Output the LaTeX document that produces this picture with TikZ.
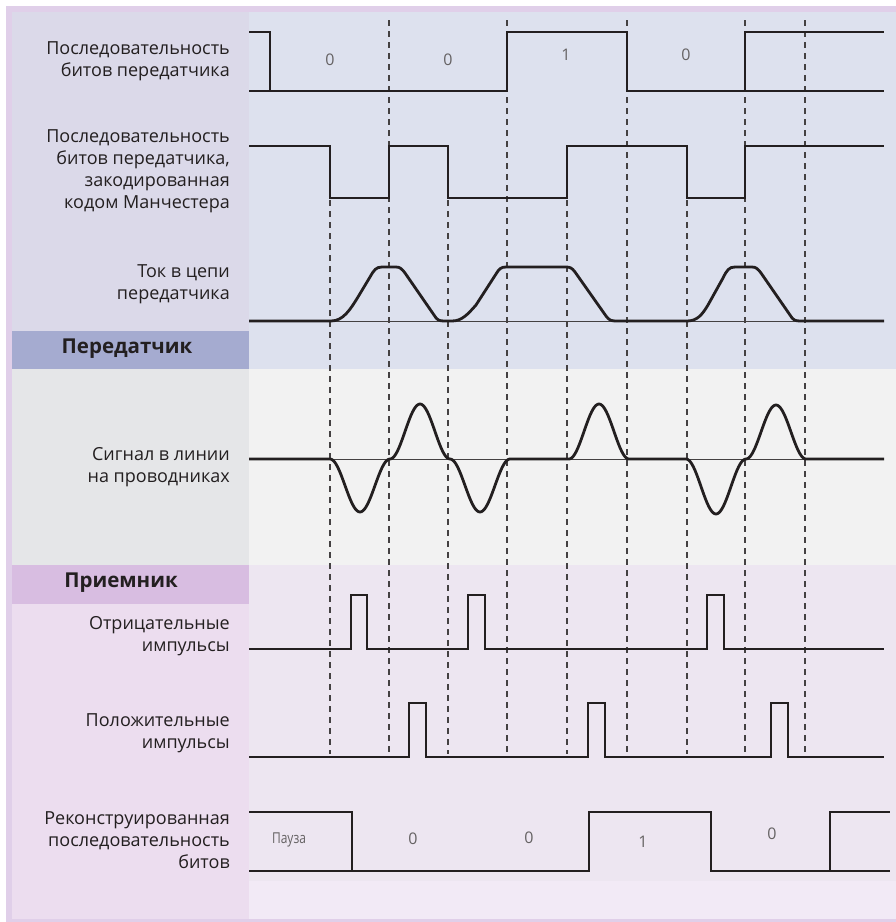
\documentclass[tikz,border=0pt]{standalone}
\usepackage{fontspec}
\setmainfont{Open Sans}
\definecolor{frame}{HTML}{E0CFE9}
\definecolor{txlbl}{HTML}{DBD9E9}
\definecolor{txhead}{HTML}{A5ABD0}
\definecolor{sglbl}{HTML}{E5E6E8}
\definecolor{rxhead}{HTML}{D8BDE1}
\definecolor{rxlbl}{HTML}{ECDDEF}
\definecolor{txplot}{HTML}{DDE1EE}
\definecolor{sgplot}{HTML}{F2F2F2}
\definecolor{rxplot}{HTML}{EDE6F1}
\definecolor{footplot}{HTML}{F2EAF6}
\definecolor{ink}{HTML}{231F20}
\begin{document}
\begin{tikzpicture}[x=1pt,y=-1pt,
  wave/.style={line width=2.8pt, ink},
  thinbase/.style={line width=1pt, ink!85},
  guide/.style={line width=1.25pt, ink!85, dash pattern=on 6pt off 5pt},
  lbl/.style={anchor=east, align=right, inner sep=0pt, text=ink,
              font=\fontsize{18}{22}\selectfont},
  head/.style={inner sep=0pt, text=ink, font=\fontsize{20.5}{22}\selectfont\bfseries},
  bit/.style={inner sep=0pt, text=ink!70, font=\fontsize{16}{18}\selectfont}]
\useasboundingbox (0,0) rectangle (896,922);
\fill[white] (0,0) rectangle (896,922);
\fill[frame] (6,6) rectangle (896,922);
% label column
\fill[txlbl]  (12,12)  rectangle (249,331);
\fill[txhead] (12,331) rectangle (249,369);
\fill[sglbl]  (12,369) rectangle (249,565);
\fill[rxhead] (12,565) rectangle (249,604);
\fill[rxlbl]  (12,604) rectangle (249,919);
% plot column
\fill[txplot]   (249,12)  rectangle (896,369);
\fill[sgplot]   (249,369) rectangle (896,565);
\fill[rxplot]   (249,565) rectangle (896,881);
\fill[footplot] (249,881) rectangle (896,919);

% timing guides
\foreach \gx in {389,507,627,745,805} \draw[guide] (\gx,20) -- (\gx,754);
\foreach \gx in {330,448,567,687} \draw[guide] (\gx,200) -- (\gx,754);

% transmitter bit sequence
\draw[wave] (249,32) -- (270,32) -- (270,91);
\draw[wave] (249,91) -- (507,91) -- (507,32) -- (627,32) -- (627,91) -- (884,91);
\draw[wave] (745,91) -- (745,32) -- (884,32);
\node[bit] (b1) at (330,60) {0};
\node[bit] (b2) at (448,60) {0};
\node[bit] (b3) at (566,55) {1};
\node[bit] (b4) at (686,55) {0};

% Manchester code
\draw[wave] (249,146) -- (330,146) -- (330,198) -- (389,198) -- (389,146)
  -- (448,146) -- (448,198) -- (567,198) -- (567,146) -- (687,146)
  -- (687,198) -- (745,198) -- (745,146) -- (884,146);

% transmitter current
\draw[thinbase] (249,321) -- (884,321);
\draw[wave] (249,321) -- (331,321)
  .. controls (343,321) and (350,310) .. (358,297) -- (370,277)
  .. controls (374,270) and (376,267) .. (382,267) -- (396,267)
  .. controls (400,267) and (402,269) .. (405,273) -- (434,315)
  .. controls (437,320) and (439,321) .. (444,321) -- (452,321)
  .. controls (462,321) and (468,314) .. (476,305) -- (496,274)
  .. controls (499,269) and (501,267) .. (506,267) -- (566,267)
  .. controls (570,267) and (572,268) .. (575,272) -- (606,316)
  .. controls (609,320) and (611,321) .. (616,321) -- (687,321)
  .. controls (697,321) and (702,315) .. (708,305) -- (723,278)
  .. controls (727,270) and (729,267) .. (735,267) -- (752,267)
  .. controls (756,267) and (758,269) .. (761,273) -- (790,315)
  .. controls (793,320) and (795,321) .. (800,321) -- (884,321);

% line signal
\draw[thinbase] (249,459) -- (884,459);
\draw[wave] (249,459) -- (330,459)
  -- plot[domain=330:390, samples=41] (\x,{459+26.5*(1+cos(6*(\x-360)))})
  -- plot[domain=390:450, samples=41] (\x,{459-27.5*(1+cos(6*(\x-420)))})
  -- plot[domain=450:510, samples=41] (\x,{459+26.5*(1+cos(6*(\x-480)))})
  -- (569,459)
  -- plot[domain=569:629, samples=41] (\x,{459-27.5*(1+cos(6*(\x-599)))})
  -- (686,459)
  -- plot[domain=686:746, samples=41] (\x,{459+27.5*(1+cos(6*(\x-716)))})
  -- plot[domain=746:806, samples=41] (\x,{459-27*(1+cos(6*(\x-776)))})
  -- (884,459);

% negative pulses
\draw[wave] (249,649) -- (351,649) -- (351,595) -- (367,595) -- (367,649)
  -- (468,649) -- (468,595) -- (485,595) -- (485,649)
  -- (707,649) -- (707,595) -- (724,595) -- (724,649) -- (884,649);

% positive pulses
\draw[wave] (249,757) -- (409,757) -- (409,703) -- (426,703) -- (426,757)
  -- (588,757) -- (588,703) -- (605,703) -- (605,757)
  -- (771,757) -- (771,703) -- (788,703) -- (788,757) -- (884,757);

% reconstructed bit sequence
\draw[wave] (249,812) -- (352,812) -- (352,871);
\draw[wave] (249,871) -- (589,871) -- (589,812) -- (711,812) -- (711,871) -- (890,871);
\draw[wave] (830,871) -- (830,812) -- (890,812);
\node[bit, font=\fontsize{15}{17}\selectfont] (pause) at (289,840) {\scalebox{0.8}[1]{Пауза}};
\node[bit] (r1) at (413,839) {0};
\node[bit] (r2) at (529,838) {0};
\node[bit] (r3) at (643,842) {1};
\node[bit] (r4) at (772,834) {0};

% row labels
\node[lbl] (l1) at (230,61)  {Последовательность\\битов передатчика};
\node[lbl] (l2) at (230,171) {Последовательность\\битов передатчика,\\закодированная\\кодом Манчестера};
\node[lbl] (l3) at (230,284) {Ток в цепи\\передатчика};
\node[head] (h1) at (127,349) {Передатчик};
\node[lbl] (l4) at (230,467) {Сигнал в линии\\на проводниках};
\node[head] (h2) at (121,583) {Приемник};
\node[lbl] (l5) at (230,636) {Отрицательные\\импульсы};
\node[lbl] (l6) at (230,733) {Положительные\\импульсы};
\node[lbl] (l7) at (230,840) {Реконструированная\\последовательность\\битов};
\end{tikzpicture}
\end{document}
